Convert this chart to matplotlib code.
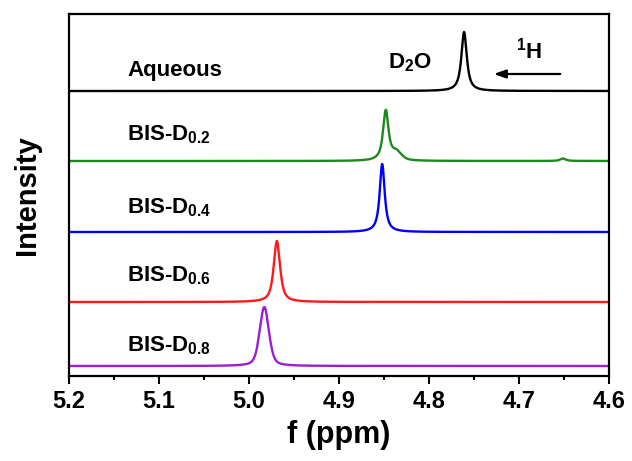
import numpy as np
import matplotlib
matplotlib.use("Agg")
import matplotlib.pyplot as plt
from matplotlib.ticker import MultipleLocator

plt.rcParams["font.family"] = ["Liberation Sans", "DejaVu Sans"]
plt.rcParams["font.weight"] = "bold"
plt.rcParams["mathtext.fontset"] = "custom"
plt.rcParams["mathtext.bf"] = "Liberation Sans:bold"
plt.rcParams["mathtext.rm"] = "Liberation Sans:bold"
plt.rcParams["mathtext.default"] = "bf"

# peak lists per sample: (shift ppm, height, half width ppm, gaussian fraction)
samples = ["Aqueous", "BIS-D$_{0.2}$", "BIS-D$_{0.4}$", "BIS-D$_{0.6}$", "BIS-D$_{0.8}$"]
colors = ["#000000", "#1a8a1a", "#0000ff", "#ff1a1a", "#9b1fd1"]
offsets = [285, 215, 144, 74, 10]
peaks = [
    [(4.761, 59, 0.0036, 0.1)],
    [(4.848, 50, 0.0036, 0.1), (4.836, 8, 0.0065, 0.5), (4.651, 2.5, 0.0035, 0.0)],
    [(4.852, 68, 0.0033, 0.1)],
    [(4.969, 61, 0.0042, 0.25)],
    [(4.983, 59, 0.0060, 0.6)],
]
label_base = [76, 140, 213, 281, 351]  # text baselines, pixels from top


def line_shape(x, x0, h, w, eta):
    lor = w ** 2 / ((x - x0) ** 2 + w ** 2)
    gau = np.exp(-np.log(2) * ((x - x0) / w) ** 2)
    return h * ((1 - eta) * lor + eta * gau)


W, H = 632, 461
fig = plt.figure(figsize=(W / 100, H / 100), dpi=100)
ax = fig.add_axes([69 / W, 1 - 376 / H, 540 / W, 362 / H])

x = np.linspace(4.6, 5.2, 6000)
for off, pk, col in zip(offsets, peaks, colors):
    y = np.full_like(x, off, dtype=float)
    for p in pk:
        y += line_shape(x, *p)
    ax.plot(x, y, color=col, lw=1.7, solid_joinstyle="round")

for name, ly in zip(samples, label_base):
    fig.text(127 / W, 1 - ly / H, name, fontsize=16, fontweight="bold",
             va="baseline", ha="left")

fig.text(388 / W, 1 - 68 / H, "D$_2$O", fontsize=16, fontweight="bold", va="baseline", ha="left")
fig.text(516 / W, 1 - 58 / H, "$^1$H", fontsize=16, fontweight="bold", va="baseline", ha="left")
ax.annotate("", xy=(491 / W, 1 - 74 / H), xytext=(563 / W, 1 - 74 / H),
            xycoords="figure fraction", textcoords="figure fraction",
            arrowprops=dict(arrowstyle="-|>,head_length=0.7,head_width=0.25", color="black", lw=1.6))

ax.set_xlim(5.2, 4.6)
ax.set_ylim(0, 362)
ax.set_yticks([])
ax.xaxis.set_major_locator(MultipleLocator(0.1))
ax.xaxis.set_minor_locator(MultipleLocator(0.05))
ax.tick_params(axis="x", which="major", direction="out", length=6, width=1.5, labelsize=17, pad=4)
ax.tick_params(axis="x", which="minor", direction="out", length=3, width=1.5)
for lab in ax.get_xticklabels():
    lab.set_fontweight("bold")
for s in ax.spines.values():
    s.set_linewidth(1.6)

ax.set_xlabel("f (ppm)", fontsize=22, fontweight="bold", labelpad=5)
ax.set_ylabel("Intensity", fontsize=21, fontweight="bold", labelpad=20)

fig.savefig("out.png", dpi=100)
